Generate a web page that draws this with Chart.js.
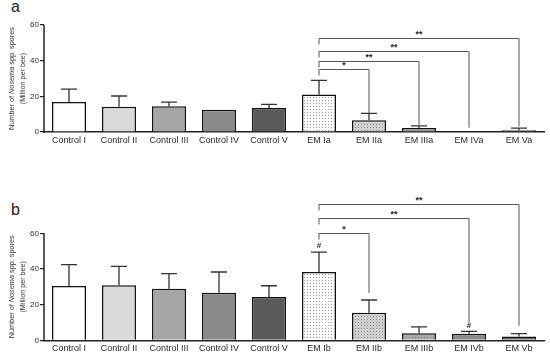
<!DOCTYPE html>
<html>
<head>
<meta charset="utf-8">
<script src="https://cdn.jsdelivr.net/npm/chart.js@4.4.0/dist/chart.umd.min.js"></script>
<style>
  html, body { margin: 0; padding: 0; background: #fff; }
  body { width: 550px; height: 359px; position: relative; overflow: hidden; font-family: "Liberation Sans", Arial, sans-serif; }
  .panel { position: absolute; left: 0; width: 550px; }
  .tag { position: absolute; font-size: 16px; color: #222; line-height: 1; }
</style>
</head>
<body>
<div class="tag" style="left:11px;top:-1px">a</div>
<div class="panel" style="top:0;height:150px"><canvas id="chartA"></canvas></div>
<div class="tag" style="left:11px;top:202px">b</div>
<div class="panel" style="top:180px;height:179px"><canvas id="chartB"></canvas></div>
<script>
// panel a
const categoriesA = ["Control I", "Control II", "Control III", "Control IV", "Control V", "EM Ia", "EM IIa", "EM IIIa", "EM IVa", "EM Va"];
const meansA = [16.8, 14.2, 14.4, 12.5, 13.5, 21, 6.6, 2.2, 0.6, 1];
const errorsA = [7.2, 6, 2.3, 0, 2, 8, 3.9, 1.2, 0, 1.2];
const bracketToA = [6, 7, 8, 9];
const bracketLevelA = [35.5, 40, 45.6, 52.6];
const bracketEndA = [10.5, 3.9, 2.4, 3.0];
const bracketLabelA = ["*", "**", "**", "**"];
const hashA = [];

// panel b
const categoriesB = ["Control I", "Control II", "Control III", "Control IV", "Control V", "EM Ib", "EM IIb", "EM IIIb", "EM IVb", "EM Vb"];
const meansB = [30.4, 30.8, 28.9, 26.7, 24.3, 38.3, 15.5, 3.9, 3.7, 2.2];
const errorsB = [12, 10.7, 8.5, 11.6, 6.3, 11.2, 7.1, 3.6, 1.3, 1.5];
const bracketToB = [6, 8, 9];
const bracketLevelB = [60, 68.6, 76.4];
const bracketEndB = [26.5, 9.7, 8.2];
const bracketLabelB = ["*", "**", "**"];
const hashB = [5, 8];

const yTicks = [0, 20, 40, 60];

function dots(bg, dot) {
  const c = document.createElement('canvas');
  c.width = 3; c.height = 3;
  const g = c.getContext('2d');
  g.fillStyle = bg; g.fillRect(0, 0, 3, 3);
  g.fillStyle = dot; g.fillRect(1, 1, 1, 1);
  return g.createPattern(c, 'repeat');
}

const fillsA = ['#ffffff', '#d9d9d9', '#a6a6a6', '#8a8a8a', '#5a5a5a',
  dots('#ffffff', '#9a9a9a'), dots('#d2d2d2', '#8a8a8a'), dots('#a8a8a8', '#707070'), '#444444', '#666666'];
const fillsB = ['#ffffff', '#d9d9d9', '#a6a6a6', '#8a8a8a', '#5a5a5a',
  dots('#ffffff', '#9a9a9a'), dots('#cfcfcf', '#8a8a8a'), dots('#ababab', '#777777'), '#8a8a8a', '#6a6a6a'];

function overlay(means, errors, bTo, bLevel, bEnd, bLabel, hashes) {
  return {
    id: 'overlay',
    afterDatasetsDraw(chart) {
      const ctx = chart.ctx, x = chart.scales.x, y = chart.scales.y, ca = chart.chartArea;
      ctx.save();
      ctx.strokeStyle = '#222';
      ctx.lineWidth = 1.5;
      ctx.beginPath();
      ctx.moveTo(ca.left, y.getPixelForValue(0) + 0.75);
      ctx.lineTo(ca.left, y.getPixelForValue(60));
      ctx.stroke();

      // error bars (upper only)
      ctx.strokeStyle = '#333';
      ctx.lineWidth = 1.3;
      means.forEach((m, i) => {
        const e = errors[i];
        if (!e) return;
        const px = x.getPixelForValue(i);
        const y0 = y.getPixelForValue(m), y1 = y.getPixelForValue(m + e);
        ctx.beginPath();
        ctx.moveTo(px, y0); ctx.lineTo(px, y1);
        ctx.moveTo(px - 8, y1); ctx.lineTo(px + 8, y1);
        ctx.stroke();
      });

      // significance brackets
      ctx.strokeStyle = '#555';
      ctx.lineWidth = 1;
      ctx.fillStyle = '#222';
      ctx.font = 'bold 9px "Liberation Sans", Arial, sans-serif';
      ctx.textAlign = 'center';
      ctx.textBaseline = 'bottom';
      const x0 = x.getPixelForValue(5);
      bTo.forEach((t, k) => {
        const x1 = x.getPixelForValue(t);
        const yl = Math.round(y.getPixelForValue(bLevel[k])) + 0.5;
        const ye = y.getPixelForValue(bEnd[k]);
        ctx.beginPath();
        ctx.moveTo(x0, yl + 6); ctx.lineTo(x0, yl);
        ctx.lineTo(x1, yl); ctx.lineTo(x1, ye);
        ctx.stroke();
        ctx.fillText(bLabel[k], (x0 + x1) / 2, yl + 1);
      });

      ctx.font = 'bold 8px "Liberation Sans", Arial, sans-serif';
      hashes.forEach(i => {
        ctx.fillText('#', x.getPixelForValue(i), y.getPixelForValue(means[i] + errors[i]) - 2);
      });
      ctx.restore();
    },
    afterDraw(chart) {
      const ctx = chart.ctx, y = chart.scales.y;
      const cy = y.getPixelForValue(30);
      const f = '"Liberation Sans", Arial, sans-serif';
      const parts = [['Number of ', '7.3px ' + f], ['Nosema', 'italic 7.3px ' + f], [' spp. spores', '7.3px ' + f]];
      ctx.save();
      ctx.fillStyle = '#333';
      ctx.textBaseline = 'middle';
      ctx.textAlign = 'left';
      ctx.translate(11.5, cy);
      ctx.rotate(-Math.PI / 2);
      let total = 0;
      parts.forEach(p => { ctx.font = p[1]; total += ctx.measureText(p[0]).width; });
      let px = -total / 2;
      parts.forEach(p => { ctx.font = p[1]; ctx.fillText(p[0], px, 0); px += ctx.measureText(p[0]).width; });
      ctx.font = '7.2px ' + f;
      ctx.textAlign = 'center';
      ctx.fillText('(Million per bee)', 0, 11.5);
      ctx.restore();
    }
  };
}

function makeChart(id, labels, means, errors, fills, yMax, topPad, bottomH, plugin) {
  return new Chart(document.getElementById(id), {
    type: 'bar',
    data: {
      labels: labels,
      datasets: [{
        data: means,
        backgroundColor: fills,
        borderColor: '#111',
        borderWidth: 1.5,
        barPercentage: 0.68,
        categoryPercentage: 1
      }]
    },
    options: {
      responsive: true,
      maintainAspectRatio: false,
      animation: false,
      layout: { padding: { left: 0, right: 6, top: topPad, bottom: 0 } },
      plugins: { legend: { display: false }, tooltip: { enabled: false } },
      scales: {
        x: {
          grid: { display: false, drawTicks: false },
          border: { color: '#222', width: 1.5 },
          ticks: { color: '#2a2a2a', padding: 3, maxRotation: 0, autoSkip: false, font: { size: 9, family: '"Liberation Sans", Arial, sans-serif' } },
          afterFit: s => { s.height = bottomH; }
        },
        y: {
          min: 0,
          max: yMax,
          afterBuildTicks: s => { s.ticks = yTicks.map(v => ({ value: v })); },
          grid: { drawOnChartArea: false, tickLength: 4, color: '#222', lineWidth: 1.2 },
          border: { display: false },
          ticks: { color: '#2a2a2a', padding: 1, font: { size: 8, family: '"Liberation Sans", Arial, sans-serif' } },
          afterFit: s => { s.width = 44; }
        }
      }
    },
    plugins: [plugin]
  });
}

makeChart('chartA', categoriesA, meansA, errorsA, fillsA, 60, 25, 18,
  overlay(meansA, errorsA, bracketToA, bracketLevelA, bracketEndA, bracketLabelA, hashA));
makeChart('chartB', categoriesB, meansB, errorsB, fillsB, 84, 10.5, 18.7,
  overlay(meansB, errorsB, bracketToB, bracketLevelB, bracketEndB, bracketLabelB, hashB));
</script>
</body>
</html>
